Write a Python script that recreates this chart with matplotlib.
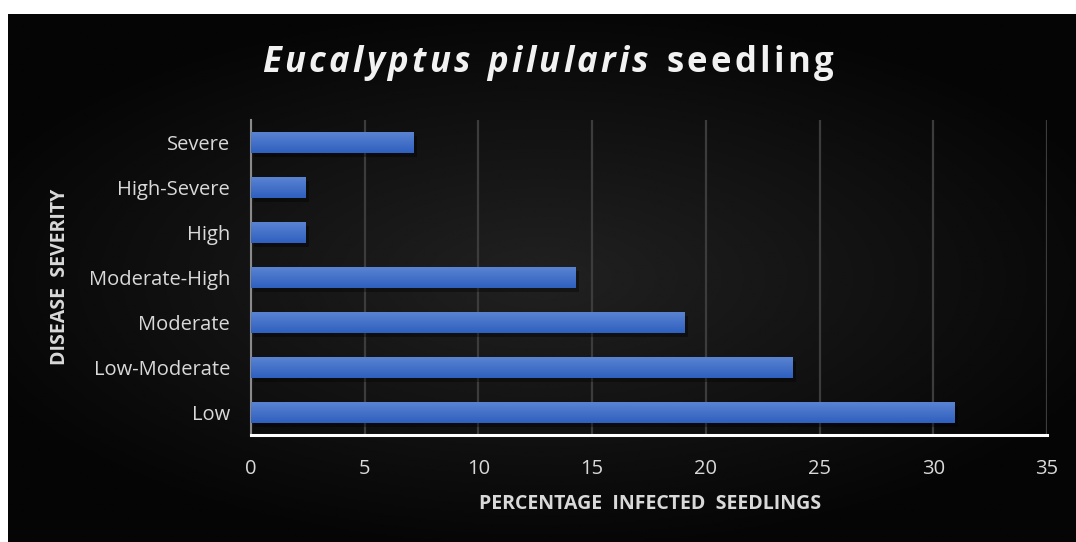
import numpy as np
import matplotlib.pyplot as plt
from matplotlib.patches import Rectangle
from matplotlib.colors import LinearSegmentedColormap

# disease severity classes and % infected seedlings (n = 42)
categories = ['Low', 'Low-Moderate', 'Moderate', 'Moderate-High', 'High', 'High-Severe', 'Severe']
percent = [30.95, 23.81, 19.05, 14.29, 2.38, 2.38, 7.14]
xticks = [0, 5, 10, 15, 20, 25, 30, 35]

W, H = 1076, 542
fig = plt.figure(figsize=(W / 100, H / 100), dpi=100, facecolor='white')

# dark radial background
bg = fig.add_axes([8 / W, 0, 1 - 8 / W, 1 - 14 / H])
yy, xx = np.mgrid[-1:1:300j, -1:1:600j]
r = np.sqrt((xx / 1.1) ** 2 + (yy / 1.0) ** 2)
shade = np.clip(0.13 - 0.105 * r, 0.02, 0.13)
bg.imshow(shade, cmap='gray', vmin=0, vmax=1, aspect='auto', extent=[0, 1, 0, 1])
bg.set_axis_off()

ax = fig.add_axes([251 / W, 1 - 435 / H, 796 / W, 315 / H])
ax.set_facecolor('none')

y = np.arange(len(categories))
bars = ax.barh(y, percent, height=0.47, color='#4472c4', zorder=3)

# soft shadow + vertical gradient on each bar
grad = np.linspace(0, 1, 50).reshape(-1, 1)
cm = LinearSegmentedColormap.from_list('b', ['#2f60bf', '#5c85d3'])
for b in bars:
    x0, y0, w, h = b.get_x(), b.get_y(), b.get_width(), b.get_height()
    ax.add_patch(Rectangle((x0 + 0.15, y0 - 0.08), w, h, color='black', alpha=0.35, zorder=2, lw=0))
    im = ax.imshow(grad, cmap=cm, aspect='auto', extent=[x0, x0 + w, y0, y0 + h], origin='lower', zorder=4)
    im.set_clip_path(b)

ax.set_xlim(0, 35)
ax.set_ylim(-0.5, 6.5)
ax.set_xticks(xticks)
ax.set_yticks(y)
ax.set_yticklabels(categories)
ax.grid(axis='x', color='#3c3c3c', linewidth=1.6, zorder=0)
ax.set_axisbelow(True)

for s in ['top', 'right']:
    ax.spines[s].set_visible(False)
ax.spines['left'].set_color('#8a8a8a')
ax.spines['left'].set_linewidth(1.5)
ax.spines['bottom'].set_color('white')
ax.spines['bottom'].set_linewidth(2.2)
ax.spines['bottom'].set_zorder(5)

ax.tick_params(axis='both', length=0, colors='#d9d9d9', labelsize=14.5)
ax.tick_params(axis='x', pad=17)
ax.tick_params(axis='y', pad=15)
for t in ax.get_xticklabels() + ax.get_yticklabels():
    t.set_family('Open Sans')

fig.text(650 / W, 1 - 504 / H, 'PERCENTAGE  INFECTED  SEEDLINGS', color='#d9d9d9', fontsize=14,
         fontweight='bold', family='Open Sans', ha='center', va='center')
fig.text(60 / W, 1 - 277 / H, 'DISEASE  SEVERITY', color='#d9d9d9', fontsize=14,
         fontweight='bold', family='Open Sans', ha='center', va='center', rotation=90)

# letter-spaced title, drawn char by char
renderer = fig.canvas.get_renderer()
x = 262.0
spacing = 3.3
parts = [('Eucalyptus pilularis', 'italic'), (' seedling', 'normal')]
for txt, st in parts:
    for ch in txt:
        t = fig.text(x / W, 1 - 63 / H, ch, color='#f2f2f2', fontsize=25, fontweight='bold',
                     style=st, family='Open Sans', ha='left', va='center')
        if ch == ' ':
            x += 11 + spacing
        else:
            x += t.get_window_extent(renderer).width + spacing

fig.savefig('out.png', dpi=100, facecolor='white')
